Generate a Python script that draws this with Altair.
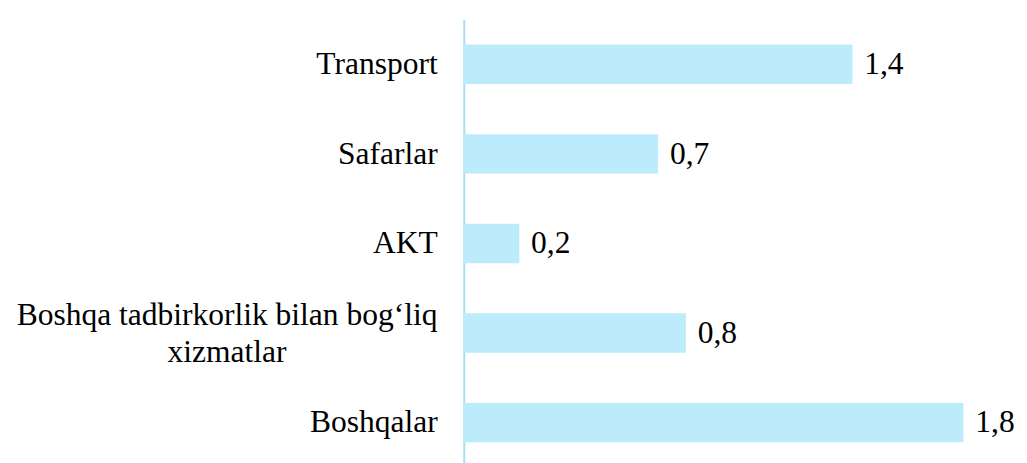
import altair as alt
import pandas as pd

categories = ["Transport", "Safarlar", "AKT", "Boshqa tadbirkorlik bilan bog‘liq|xizmatlar", "Boshqalar"]
values = [1.4, 0.7, 0.2, 0.8, 1.8]
labels = ["1,4", "0,7", "0,2", "0,8", "1,8"]

df = pd.DataFrame({"cat": categories, "val": values, "lab": labels})

FONT = "Liberation Serif"
multi = "indexof(datum.value, '|') >= 0"

y = alt.Y("cat:N", sort=categories, title=None,
          scale=alt.Scale(paddingInner=0.56, paddingOuter=0.28),
          axis=alt.Axis(labelFont=FONT, labelFontSize=32, labelColor="#000000",
                        labelPadding={"condition": {"test": multi, "value": 241}, "value": 27},
                        labelAlign={"condition": {"test": multi, "value": "center"}, "value": "right"},
                        labelOffset={"condition": {"test": multi, "value": -18}, "value": 0},
                        ticks=False, domainColor="#A9DDF0",
                        domainWidth=2, labelLimit=0, labelLineHeight=37,
                        labelExpr="split(datum.value, '|')"))
x = alt.X("val:Q", title=None, scale=alt.Scale(domain=[0, 2], nice=False),
          axis=None)

bars = alt.Chart(df).mark_bar(color="#BCEBFC").encode(x=x, y=y)
text = alt.Chart(df).mark_text(align="left", baseline="middle", dx=12,
                               font=FONT, fontSize=32, color="#000000").encode(
    x=x, y=y, text="lab:N")

chart = (bars + text).properties(
    width=564, height=455,
    padding={"top": 8, "left": 8, "right": 0, "bottom": 0}
).configure_view(stroke=None).configure_axis(grid=False)

chart.save("out.html", embed_options={"renderer": "svg", "actions": False})
